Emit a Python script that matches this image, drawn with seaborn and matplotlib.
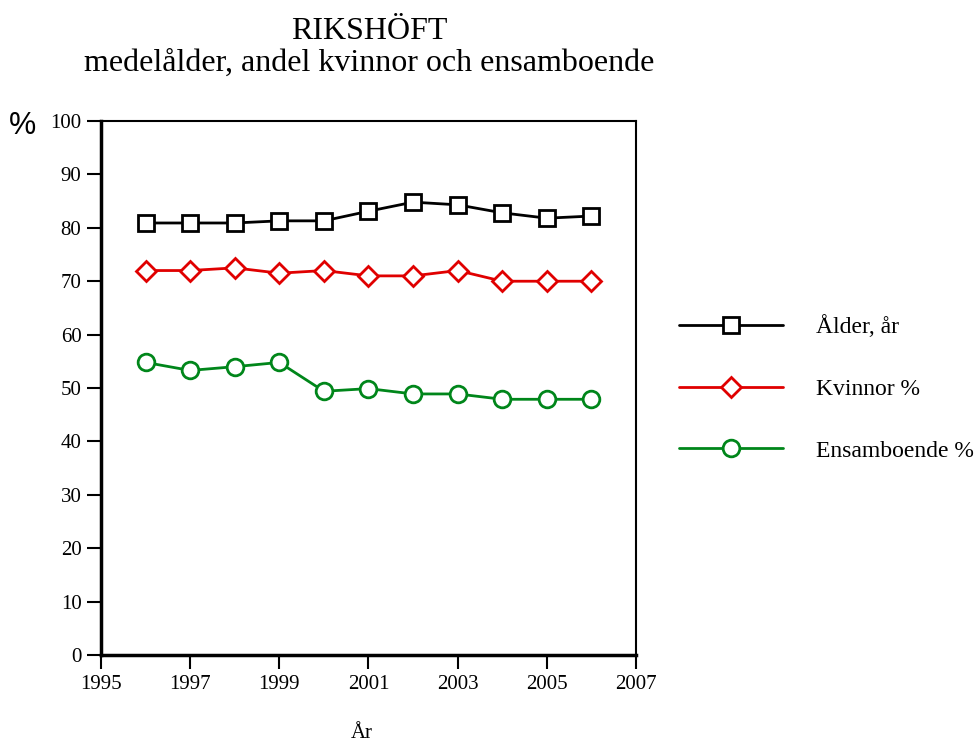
import pandas as pd
import matplotlib
matplotlib.use("Agg")
import matplotlib.pyplot as plt
import seaborn as sns

# data
years = [1996, 1997, 1998, 1999, 2000, 2001, 2002, 2003, 2004, 2005, 2006]
alder = [80.9, 80.9, 80.9, 81.3, 81.3, 83.1, 84.8, 84.3, 82.8, 81.8, 82.2]
kvinnor = [72.0, 72.0, 72.5, 71.5, 72.0, 71.0, 71.0, 72.0, 70.0, 70.0, 70.0]
ensam = [54.8, 53.3, 54.0, 54.8, 49.4, 49.9, 48.9, 48.9, 47.9, 47.9, 47.9]

x_ticks = [1995, 1997, 1999, 2001, 2003, 2005, 2007]
y_ticks = list(range(0, 101, 10))

sns.set_theme(style="white")
plt.rcParams['font.family'] = ['Liberation Serif', 'DejaVu Serif']
plt.rcParams['text.color'] = 'black'
plt.rcParams['xtick.color'] = 'black'
plt.rcParams['ytick.color'] = 'black'

df = pd.DataFrame({"År": years, "Ålder, år": alder,
                   "Kvinnor %": kvinnor, "Ensamboende %": ensam})

fig = plt.figure(figsize=(9.8, 7.42), dpi=100)
ax = fig.add_axes([0.103, 0.117, 0.546, 0.720])

series = [
    ("Ålder, år", "black", "s", 12),
    ("Kvinnor %", "#e00000", "D", 10),
    ("Ensamboende %", "#00861a", "o", 12),
]
for col, color, marker, ms in series:
    sns.lineplot(data=df, x="År", y=col, ax=ax, color=color, marker=marker,
                 markersize=ms, markerfacecolor="white", markeredgecolor=color,
                 markeredgewidth=2, linewidth=2, label=col)

ax.set_xlim(1995, 2007)
ax.set_ylim(0, 100)
ax.set_xticks(x_ticks)
ax.set_yticks(y_ticks)
ax.tick_params(axis="both", direction="out", length=10, width=1.5,
               labelsize=15, bottom=True, left=True, pad=4)

for side in ["left", "bottom"]:
    ax.spines[side].set_linewidth(2.5)
    ax.spines[side].set_color("black")
for side in ["top", "right"]:
    ax.spines[side].set_linewidth(1.5)
    ax.spines[side].set_color("black")

ax.set_xlabel("")
ax.set_ylabel("")
fig.text(0.369, 0.011, "År", fontsize=15, ha="center", va="center")
ax.text(-0.146, 0.99, "%", transform=ax.transAxes, fontsize=22,
        family=["Liberation Sans", "DejaVu Sans"], ha="center", va="center")

fig.text(0.377, 0.958, "RIKSHÖFT", fontsize=23, ha="center", va="center")
fig.text(0.377, 0.914, "medelålder, andel kvinnor och ensamboende",
         fontsize=23, ha="center", va="center")

ax.legend(loc="upper left", bbox_to_anchor=(1.062, 0.654), frameon=False,
          fontsize=17, handlelength=4.4, handletextpad=1.4, labelspacing=1.7,
          borderaxespad=0)

fig.savefig("out.png", dpi=100)
